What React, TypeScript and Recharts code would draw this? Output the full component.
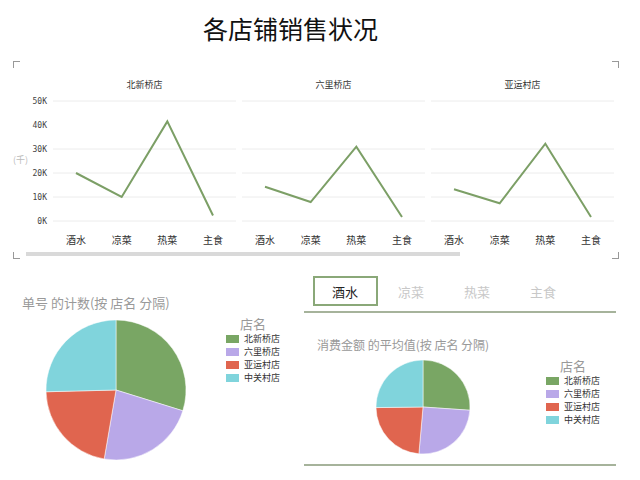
import { LineChart, Line, XAxis, YAxis, CartesianGrid, PieChart, Pie, Cell } from "recharts";

const categories = ["酒水", "凉菜", "热菜", "主食"];
const stores = ["北新桥店", "六里桥店", "亚运村店", "中关村店"];
const beixinqiaoSales = [20000, 10000, 41500, 2300];
const liuliqiaoSales = [14300, 7900, 31000, 1700];
const yayuncunSales = [13200, 7400, 32200, 1700];
const yTicks = [0, 10000, 20000, 30000, 40000, 50000];
const tabs = ["酒水", "凉菜", "热菜", "主食"];
const orderCounts = [298, 229, 219, 254];
const avgSpend = [261, 253, 234, 252];
const storeColors = ["#79a664", "#b9a8e8", "#e0654f", "#80d4dc"];

const FONT = '"Noto Sans CJK SC", "Noto Sans", sans-serif';
const LINE_GREEN = "#7c9f66";

const panels = [
  { title: stores[0], values: beixinqiaoSales, left: 0, width: 236, showY: true },
  { title: stores[1], values: liuliqiaoSales, left: 242, width: 183, showY: false },
  { title: stores[2], values: yayuncunSales, left: 431, width: 183, showY: false },
];

function kFormat(v: number) {
  return `${Math.round(v / 1000)}K`;
}

function StorePanel({ title, values, left, width, showY }: (typeof panels)[number]) {
  const data = categories.map((c, i) => ({ name: c, value: values[i] }));
  const plotLeft = showY ? 53 : 0;
  return (
    <>
      <div
        style={{
          position: "absolute",
          left: left + plotLeft,
          width: width - plotLeft,
          top: 78,
          textAlign: "center",
          fontSize: 9,
          color: "#333",
        }}
      >
        {title}
      </div>
      <div style={{ position: "absolute", left, top: 95 }}>
        <LineChart width={width} height={160} data={data} margin={{ top: 6, right: 0, bottom: 0, left: 0 }}>
          <CartesianGrid vertical={false} stroke="#ececec" />
          <XAxis
            dataKey="name"
            height={34}
            axisLine={false}
            tickLine={false}
            tickSize={6}
            tickMargin={10}
            padding={{ left: 23, right: 23 }}
            tick={{ fontSize: 10, fill: "#333", fontFamily: FONT }}
          />
          <YAxis
            hide={!showY}
            width={53}
            domain={[0, 50000]}
            ticks={yTicks}
            tickFormatter={kFormat}
            axisLine={false}
            tickLine={false}
            tickSize={6}
            tickMargin={0}
            tick={{ fontSize: 8, fill: "#444", fontFamily: '"DejaVu Sans Mono", monospace' }}
          />
          <Line
            type="linear"
            dataKey="value"
            stroke={LINE_GREEN}
            strokeWidth={2}
            dot={false}
            isAnimationActive={false}
          />
        </LineChart>
      </div>
    </>
  );
}

function Corner({ x, y, h, v }: { x: number; y: number; h: "l" | "r"; v: "t" | "b" }) {
  const s: React.CSSProperties = { position: "absolute", left: x, top: y, width: 6, height: 6 };
  const b = "1px solid #999";
  if (h === "l") s.borderLeft = b;
  else s.borderRight = b;
  if (v === "t") s.borderTop = b;
  else s.borderBottom = b;
  return <div style={s} />;
}

function StoreLegend({ left, top, rowGap }: { left: number; top: number; rowGap: number }) {
  return (
    <div style={{ position: "absolute", left, top }}>
      <div style={{ fontSize: 13, color: "#999", marginLeft: 14, lineHeight: "16px" }}>店名</div>
      {stores.map((s, i) => (
        <div key={s} style={{ display: "flex", alignItems: "center", height: rowGap, lineHeight: `${rowGap}px` }}>
          <span style={{ width: 13, height: 8, background: storeColors[i], marginRight: 5 }} />
          <span style={{ fontSize: 9, color: "#333", lineHeight: `${rowGap}px` }}>{s}</span>
        </div>
      ))}
    </div>
  );
}

export default function App() {
  const countData = stores.map((s, i) => ({ name: s, value: orderCounts[i] }));
  const avgData = stores.map((s, i) => ({ name: s, value: avgSpend[i] }));
  return (
    <div
      style={{
        position: "absolute",
        left: 0,
        top: 0,
        width: 640,
        height: 480,
        background: "#fff",
        fontFamily: FONT,
        overflow: "hidden",
      }}
    >
      <div style={{ position: "absolute", left: 0, width: 581, top: 10, textAlign: "center", fontSize: 25, color: "#111" }}>
        各店铺销售状况
      </div>

      <Corner x={13} y={61} h="l" v="t" />
      <Corner x={13} y={252} h="l" v="b" />
      <Corner x={612} y={61} h="r" v="t" />
      <Corner x={612} y={252} h="r" v="b" />

      <div style={{ position: "absolute", left: 13, top: 153, fontSize: 9, color: "#bbb" }}>(千)</div>

      {panels.map((p) => (
        <StorePanel key={p.title} {...p} />
      ))}

      <div style={{ position: "absolute", left: 26, top: 252, width: 434, height: 4, background: "#d9d9d9" }} />

      <div style={{ position: "absolute", left: 22, top: 293, fontSize: 13, color: "#999" }}>单号 的计数(按 店名 分隔)</div>
      <div style={{ position: "absolute", left: 0, top: 300 }}>
        <PieChart width={240} height={180} margin={{ top: 0, right: 0, bottom: 0, left: 0 }}>
          <Pie
            data={countData}
            dataKey="value"
            cx={116}
            cy={90}
            outerRadius={70}
            startAngle={90}
            endAngle={-270}
            stroke="#fff"
            strokeWidth={0.5}
            isAnimationActive={false}
          >
            {countData.map((d, i) => (
              <Cell key={d.name} fill={storeColors[i]} />
            ))}
          </Pie>
        </PieChart>
      </div>
      <StoreLegend left={226} top={316} rowGap={13} />

      <div
        style={{
          position: "absolute",
          left: 313,
          top: 276,
          width: 61,
          height: 26,
          border: "2px solid #8aa878",
        }}
      />
      {tabs.map((t, i) => (
        <div
          key={t}
          style={{
            position: "absolute",
            left: 312 + i * 66,
            width: 66,
            top: 282,
            textAlign: "center",
            fontSize: 13,
            color: i === 0 ? "#222" : "#c8c8c8",
          }}
        >
          {t}
        </div>
      ))}
      <div style={{ position: "absolute", left: 304, top: 311, width: 312, height: 2, background: "#a6b39b" }} />

      <div style={{ position: "absolute", left: 317, top: 336, fontSize: 12, color: "#999" }}>
        消费金额 的平均值(按 店名 分隔)
      </div>
      <div style={{ position: "absolute", left: 330, top: 340 }}>
        <PieChart width={190} height={130} margin={{ top: 0, right: 0, bottom: 0, left: 0 }}>
          <Pie
            data={avgData}
            dataKey="value"
            cx={93}
            cy={67}
            outerRadius={47}
            startAngle={90}
            endAngle={-270}
            stroke="#fff"
            strokeWidth={0.5}
            isAnimationActive={false}
          >
            {avgData.map((d, i) => (
              <Cell key={d.name} fill={storeColors[i]} />
            ))}
          </Pie>
        </PieChart>
      </div>
      <StoreLegend left={546} top={358} rowGap={13} />

      <div style={{ position: "absolute", left: 304, top: 464, width: 312, height: 2, background: "#a6b39b" }} />
    </div>
  );
}
